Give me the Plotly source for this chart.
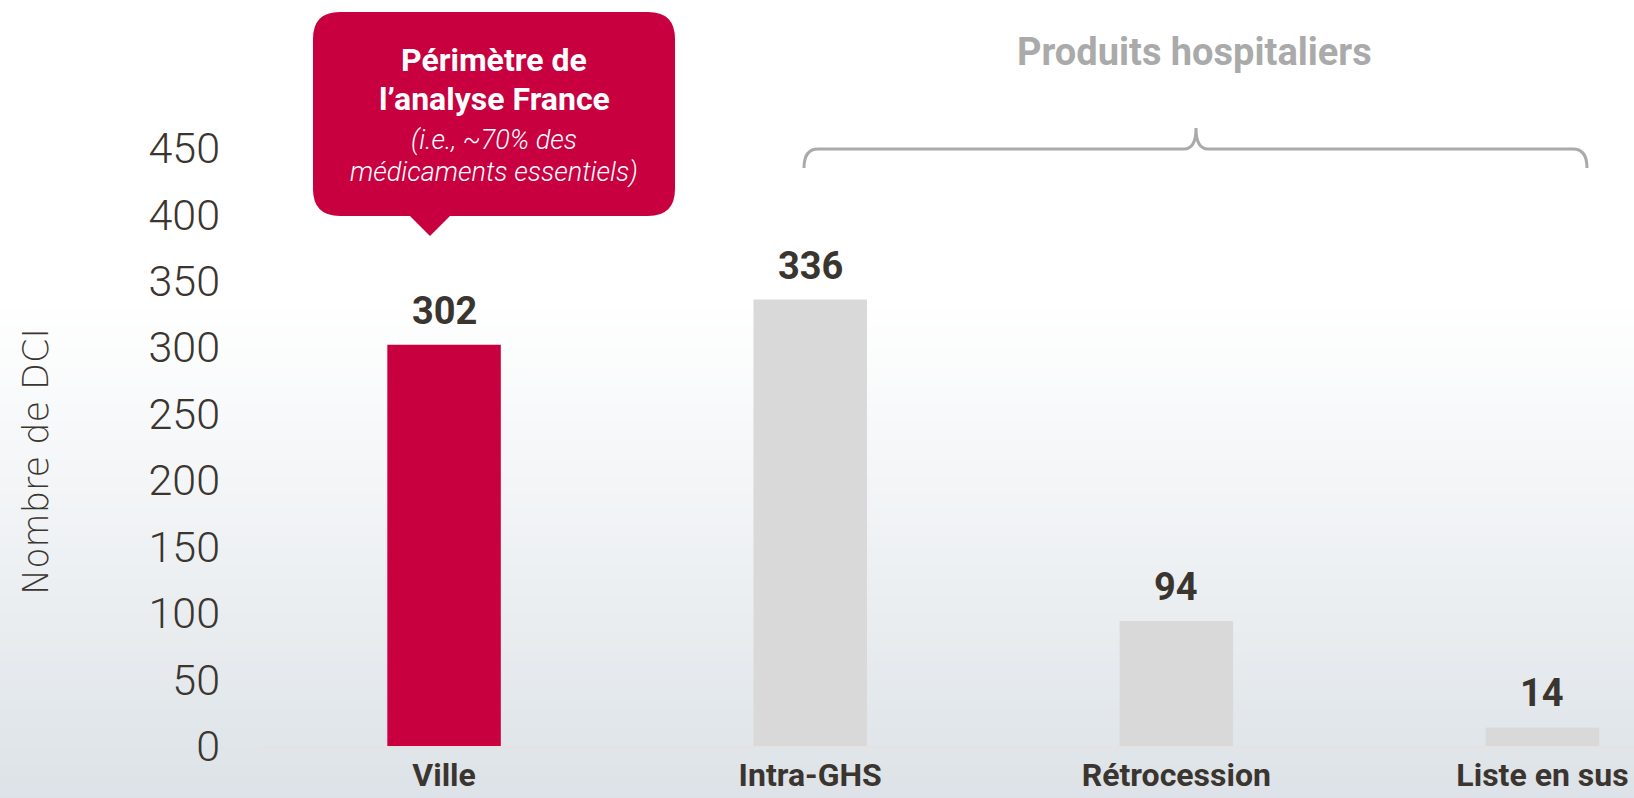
import plotly.graph_objects as go

# ---- data ----
categories = ["Ville", "Intra-GHS", "Rétrocession", "Liste en sus"]
values = [302, 336, 94, 14]
bar_colors = ["#C8003F", "#D9D9D9", "#D9D9D9", "#D9D9D9"]
y_ticks = [0, 50, 100, 150, 200, 250, 300, 350, 400, 450]
y_title = "Nombre de DCI"
callout_lines_bold = ["Périmètre de", "l’analyse France"]
callout_lines_italic = ["(i.e., ~70% des", "médicaments essentiels)"]
group_label = "Produits hospitaliers"

# ---- layout geometry (pixels) ----
W, H = 1634, 798
ML, MR, MT, MB = 261, 0, 95, 52
PW, PH = W - ML - MR, H - MT - MB

def px(x):
    return (x - ML) / PW

def py(y):
    return (H - MB - y) / PH

TEXT = "#3B3530"
RED = "#C8003F"
GREY = "#AAAAAA"

fig = go.Figure()
fig.add_trace(go.Bar(
    x=categories, y=values, marker=dict(color=bar_colors, line=dict(width=0)),
    width=0.31, hoverinfo="x+y", showlegend=False,
))

shapes = []
# background gradient bands
top_c = (255, 255, 255)
bot_c = (220, 226, 231)
y0 = 290
step = 6
yy = y0
while yy < H:
    t = (yy - y0) / (H - y0)
    t = t ** 1.1
    c = tuple(int(round(top_c[i] + (bot_c[i] - top_c[i]) * t)) for i in range(3))
    shapes.append(dict(type="rect", xref="paper", yref="paper", layer="below",
                       x0=px(0), x1=px(W), y0=py(min(yy + step + 1, H)), y1=py(yy),
                       fillcolor="rgb(%d,%d,%d)" % c, line=dict(width=0)))
    yy += step

# callout bubble with rounded corners and pointer
bx0, bx1, by0, by1, r = 313, 675, 12, 216, 27
tipx, tipy, bl, br = 430, 236, 410, 450
def P(x, y):
    return "%.5f,%.5f" % (px(x), py(y))
path = ("M " + P(bx0 + r, by0) + " L " + P(bx1 - r, by0) +
        " Q " + P(bx1, by0) + " " + P(bx1, by0 + r) +
        " L " + P(bx1, by1 - r) +
        " Q " + P(bx1, by1) + " " + P(bx1 - r, by1) +
        " L " + P(br, by1) + " L " + P(tipx, tipy) + " L " + P(bl, by1) +
        " L " + P(bx0 + r, by1) +
        " Q " + P(bx0, by1) + " " + P(bx0, by1 - r) +
        " L " + P(bx0, by0 + r) +
        " Q " + P(bx0, by0) + " " + P(bx0 + r, by0) + " Z")
shapes.append(dict(type="path", xref="paper", yref="paper", path=path,
                   fillcolor=RED, line=dict(width=0), layer="above"))

# brace
bpath = ("M " + P(804, 168) + " Q " + P(804, 149) + " " + P(818, 149) +
         " L " + P(1184, 149) + " Q " + P(1196, 149) + " " + P(1196, 128) +
         " Q " + P(1196, 149) + " " + P(1208, 149) +
         " L " + P(1573, 149) + " Q " + P(1587, 149) + " " + P(1587, 168))
shapes.append(dict(type="path", xref="paper", yref="paper", path=bpath,
                   line=dict(color=GREY, width=3)))

annotations = []
# value labels
for c, v in zip(categories, values):
    annotations.append(dict(x=c, y=v, xref="x", yref="y", text="<b>%d</b>" % v,
                            showarrow=False, yanchor="middle", yshift=34,
                            font=dict(family="Roboto", size=38, color=TEXT)))
# callout texts
for txt, yc in zip(callout_lines_bold, [60, 99]):
    annotations.append(dict(x=px(494), y=py(yc), xref="paper", yref="paper",
                            text="<b>%s</b>" % txt, showarrow=False,
                            xanchor="center", yanchor="middle",
                            font=dict(family="Roboto", size=32, color="white")))
for txt, yc in zip(callout_lines_italic, [140, 172]):
    annotations.append(dict(x=px(494), y=py(yc), xref="paper", yref="paper",
                            text="<i>%s</i>" % txt, showarrow=False,
                            xanchor="center", yanchor="middle",
                            font=dict(family="Roboto", size=27, color="white", weight=300)))
# group label
annotations.append(dict(x=px(1194), y=py(52), xref="paper", yref="paper",
                        text="<b>%s</b>" % group_label, showarrow=False,
                        xanchor="center", yanchor="middle",
                        font=dict(family="Roboto", size=38, color=GREY)))
# y title
annotations.append(dict(x=px(36), y=py(462), xref="paper", yref="paper",
                        text=y_title, showarrow=False, textangle=-90,
                        xanchor="center", yanchor="middle",
                        font=dict(family="DejaVu Sans", size=35, color=TEXT, weight=200)))

fig.update_layout(
    width=W, height=H,
    margin=dict(l=ML, r=MR, t=MT, b=MB, pad=0, autoexpand=False),
    paper_bgcolor="white", plot_bgcolor="rgba(0,0,0,0)",
    shapes=shapes, annotations=annotations,
)
fig.update_xaxes(range=[-0.5, 3.25], showgrid=False, zeroline=False,
                 showline=True, linecolor="#E8E2DE", linewidth=2, ticks="",
                 tickfont=dict(family="Roboto", size=32, color=TEXT, weight="bold"),
                 ticklabelstandoff=0, fixedrange=True, automargin=False)
fig.update_yaxes(range=[0, 490], tickvals=y_ticks, showgrid=False, zeroline=False,
                 showline=False, ticks="",
                 tickfont=dict(family="Roboto", size=43, color=TEXT, weight=300),
                 ticklabelstandoff=40, fixedrange=True, automargin=False)

fig.write_html("out.html", config={"displayModeBar": False},
               post_script="document.body.style.margin='0px';document.body.style.overflow='hidden';")
